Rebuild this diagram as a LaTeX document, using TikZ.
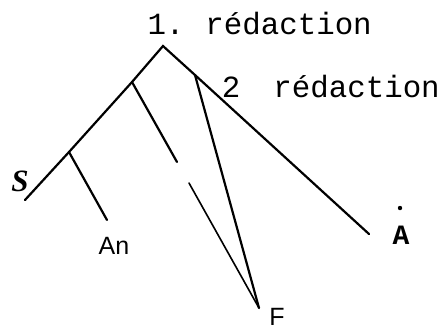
\documentclass[tikz,border=0pt]{standalone}
\usepackage{fontspec}
\setmainfont{Liberation Serif}
\setsansfont{Liberation Sans}
\setmonofont{Liberation Mono}
\usepackage{tikz}
\usetikzlibrary{positioning,calc}

\begin{document}
\begin{tikzpicture}[
  x=0.5pt,y=-0.5pt,
  branch/.style={line width=1.1pt,line cap=round},
  thinbranch/.style={line width=0.8pt,line cap=round},
  ms/.style={font=\fontsize{15.4}{18}\selectfont\ttfamily,inner sep=0pt},
  siglum/.style={font=\fontsize{12.5}{14}\selectfont\sffamily,inner sep=0pt}]

\useasboundingbox (0,0) rectangle (445,329);

% junctions of the stemma
\coordinate (top) at (163,46);
\coordinate (jl) at (132,82);
\coordinate (js) at (69,152);
\coordinate (jr) at (195,75);
\coordinate (sEnd) at (25,200);
\coordinate (anEnd) at (107,220);
\coordinate (gapA) at (177,162);
\coordinate (gapB) at (189,183);
\coordinate (fEnd) at (259,308);
\coordinate (aEnd) at (369,234);

% sigla
\node[ms] (num1) at (166,24) {1.};
\node[ms,anchor=west] (red1) at (205,24) {rédaction};
\node[ms] (num2) at (231,87) {2};
\node[ms,anchor=west] (red2) at (273,87) {rédaction};
\node[font=\fontsize{15.5}{16}\selectfont\bfseries\itshape,inner sep=0pt] (s) at (20,181) {S};
\node[siglum] (an) at (114,246) {An};
\node[siglum] (f) at (277,317) {F};
\node[font=\fontsize{14}{16}\selectfont\ttfamily\bfseries,inner sep=0pt] (a) at (401,235) {A};
\node[circle,fill,inner sep=0pt,minimum size=2.2pt] (adot) at (400,208) {};

\draw[branch] (sEnd) -- (js) -- (jl) -- (top) -- (jr) -- (aEnd);
\draw[branch] (js) -- (anEnd);
\draw[branch] (jl) -- (gapA);
\draw[thinbranch] (gapB) -- (fEnd);
\draw[branch] (jr) -- (fEnd);
\end{tikzpicture}
\end{document}
